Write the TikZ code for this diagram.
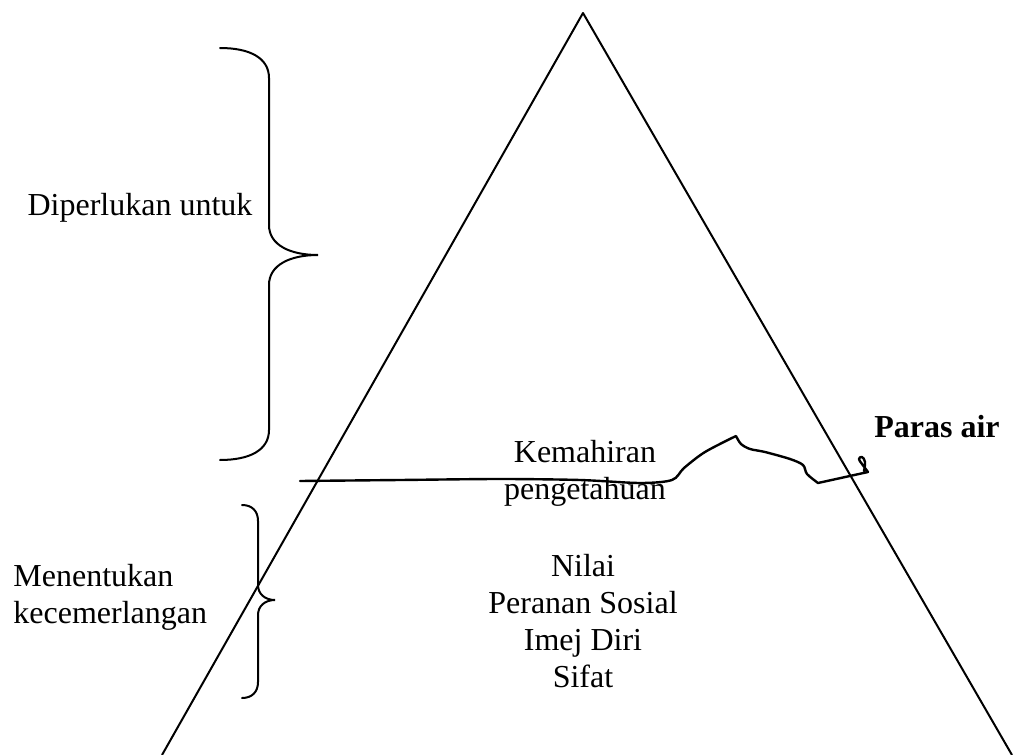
\documentclass[tikz,border=0pt]{standalone}
\usepackage{fontspec}
\setmainfont{Liberation Serif}
\usepackage{tikz}

\tikzset{
  teks/.style={font=\fontsize{16}{18.5}\selectfont, inner sep=0pt, align=center},
  garis/.style={line width=1pt, line join=round},
  kurung/.style={line width=1pt, line cap=round},
}

\begin{document}
\begin{tikzpicture}[x=0.5pt,y=-0.5pt]
 \useasboundingbox (0,0) rectangle (1030,755);

 % segi tiga
 \coordinate (puncak) at (583,13);
 \coordinate (kiri) at (162,755);
 \coordinate (kanan) at (1012,755);
 \draw[garis] (kiri) -- (puncak) -- (kanan);

 \node[teks] (kemahiran) at (585,473) {Kemahiran\\pengetahuan};
 \node[teks] (nilai) at (583,621) {Nilai\\Peranan Sosial\\Imej Diri\\Sifat};

 \node[teks, anchor=base] (perlu) at (140,215) {Diperlukan untuk};
 \node[teks, anchor=west, align=left] (tentu) at (13,597) {Menentukan\\kecemerlangan};
 \node[teks, anchor=base, font=\fontsize{16}{18.5}\selectfont\bfseries] (paras) at (937,437) {Paras air};

 % kurung atas
 \draw[kurung] (220,48) .. controls (250,48) and (269,58) .. (269,78) -- (269,225)
   .. controls (269,245) and (290,255) .. (318,255)
   .. controls (290,255) and (269,265) .. (269,285) -- (269,430)
   .. controls (269,450) and (250,460) .. (220,460);

 % kurung bawah
 \draw[kurung] (242,505) .. controls (252,505) and (258,511) .. (258,521) -- (258,585)
   .. controls (258,594) and (265,600) .. (275,600)
   .. controls (265,600) and (258,606) .. (258,615) -- (258,682)
   .. controls (258,692) and (252,698) .. (242,698);

 % garis paras air
 \draw[line width=1.2pt, line join=round, line cap=round]
   plot[smooth, tension=0.5] coordinates {(300,481) (400,480) (500,479) (580,480) (640,483) (672,480) (684,468) (705,452) (736,436)}
   plot[smooth, tension=0.5] coordinates {(736,436) (741,444) (750,449) (765,452) (790,459) (803,465) (807,474) (818,483)}
   -- (868,472)
   plot[smooth, tension=0.7] coordinates {(868,472) (862,464) (859,459) (862,457) (865,462) (864,471)};

\end{tikzpicture}
\end{document}
